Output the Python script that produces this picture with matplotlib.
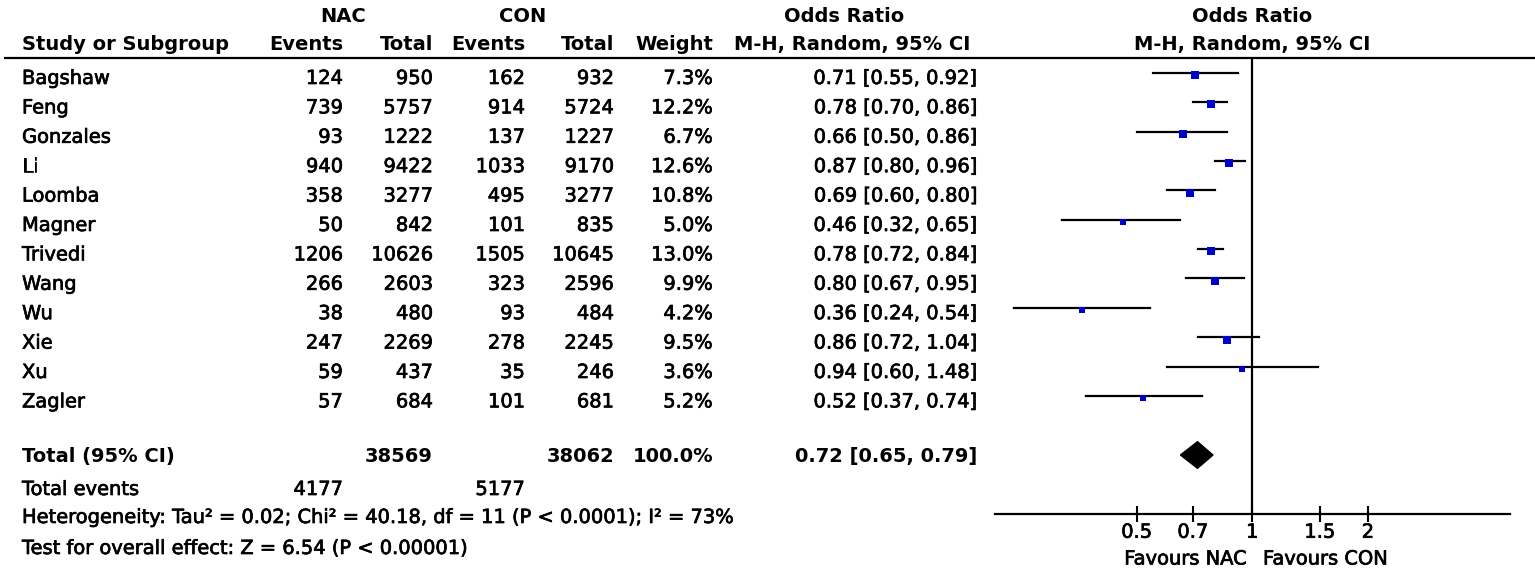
import matplotlib
matplotlib.use("Agg")
import matplotlib.pyplot as plt
import matplotlib.patheffects as pe
import numpy as np

studies = ["Bagshaw", "Feng", "Gonzales", "Li", "Loomba", "Magner",
           "Trivedi", "Wang", "Wu", "Xie", "Xu", "Zagler"]
nac_events = [124, 739, 93, 940, 358, 50, 1206, 266, 38, 247, 59, 57]
nac_total = [950, 5757, 1222, 9422, 3277, 842, 10626, 2603, 480, 2269, 437, 684]
con_events = [162, 914, 137, 1033, 495, 101, 1505, 323, 93, 278, 35, 101]
con_total = [932, 5724, 1227, 9170, 3277, 835, 10645, 2596, 484, 2245, 246, 681]
weight = [7.3, 12.2, 6.7, 12.6, 10.8, 5.0, 13.0, 9.9, 4.2, 9.5, 3.6, 5.2]
or_est = [0.71, 0.78, 0.66, 0.87, 0.69, 0.46, 0.78, 0.80, 0.36, 0.86, 0.94, 0.52]
ci_lo = [0.55, 0.70, 0.50, 0.80, 0.60, 0.32, 0.72, 0.67, 0.24, 0.72, 0.60, 0.37]
ci_hi = [0.92, 0.86, 0.86, 0.96, 0.80, 0.65, 0.84, 0.95, 0.54, 1.04, 1.48, 0.74]

total_nac, total_con = 38569, 38062
events_nac, events_con = 4177, 5177
pooled = (0.72, 0.65, 0.79)
xticks = [0.5, 0.7, 1, 1.5, 2]

W, H = 1535, 571
fig = plt.figure(figsize=(W / 100, H / 100), dpi=100)
plt.rcParams['font.family'] = ['DejaVu Sans']
FS = 14
thick = [pe.withStroke(linewidth=0.5, foreground="black")]

# text layer in pixel coords
ax = fig.add_axes([0, 0, 1, 1])
ax.set_xlim(0, W)
ax.set_ylim(H, 0)
ax.axis("off")

def txt(x, y, s, ha="left", bold=False):
    # y is the cap centre, place on baseline
    t = ax.text(x, y + 7, s, ha=ha, va="baseline", fontsize=FS,
                fontweight="bold" if bold else "normal")
    if not bold:
        t.set_path_effects(thick)
    return t

col_x = [343, 433, 525, 614, 713, 977]

# headers
txt(343, 15, "NAC", "center", True)
txt(523, 15, "CON", "center", True)
txt(844, 15, "Odds Ratio", "center", True)
txt(1252, 15, "Odds Ratio", "center", True)
txt(22, 43, "Study or Subgroup", bold=True)
for x, s in zip(col_x[:5], ["Events", "Total", "Events", "Total", "Weight"]):
    txt(x, 43, s, "right", True)
txt(852, 43, "M-H, Random, 95% CI", "center", True)
txt(1252, 43, "M-H, Random, 95% CI", "center", True)
ax.plot([5, 1535], [58.3, 58.3], color="black", lw=1.6)

row_y = [77 + 29.4 * i for i in range(len(studies))]
for i, y in enumerate(row_y):
    txt(22, y, studies[i])
    vals = [str(nac_events[i]), str(nac_total[i]), str(con_events[i]),
            str(con_total[i]), "%.1f%%" % weight[i],
            "%.2f [%.2f, %.2f]" % (or_est[i], ci_lo[i], ci_hi[i])]
    for x, s in zip(col_x, vals):
        txt(x, y, s, "right")

ty = 455
txt(22, ty, "Total (95% CI)", bold=True)
txt(433, ty, str(total_nac), "right", True)
txt(614, ty, str(total_con), "right", True)
txt(713, ty, "%.1f%%" % sum(weight), "right", True)
txt(977, ty, "%.2f [%.2f, %.2f]" % pooled, "right", True)
txt(22, 488, "Total events")
txt(343, 488, str(events_nac), "right")
txt(525, 488, str(events_con), "right")
txt(22, 516, "Heterogeneity: Tau\u00b2 = 0.02; Chi\u00b2 = 40.18, df = 11 (P < 0.0001); I\u00b2 = 73%")
txt(22, 547, "Test for overall effect: Z = 6.54 (P < 0.00001)")

# forest panel
x0, x1, ytop, ybot = 995, 1510, 58.3, 513.7
one_px, per_dec = 1252.3, 384.0
fa = fig.add_axes([x0 / W, 1 - ybot / H, (x1 - x0) / W, (ybot - ytop) / H])
fa.patch.set_alpha(0)
fa.set_xscale("log")
fa.set_xlim(10 ** ((x0 - one_px) / per_dec), 10 ** ((x1 - one_px) / per_dec))
fa.set_ylim(ybot, ytop)
for sp in ["left", "right", "top"]:
    fa.spines[sp].set_visible(False)
fa.spines["bottom"].set_linewidth(1.6)
fa.set_yticks([])
fa.set_xticks(xticks)
fa.set_xticklabels(["0.5", "0.7", "1", "1.5", "2"], fontsize=FS)
for lab in fa.get_xticklabels():
    lab.set_path_effects(thick)
fa.xaxis.set_minor_locator(matplotlib.ticker.NullLocator())
fa.tick_params(axis="x", direction="inout", length=11, width=1.5, pad=1)
fa.axvline(1, color="black", lw=1.6)

for i, y in enumerate(row_y):
    fa.plot([ci_lo[i], ci_hi[i]], [y - 4.3, y - 4.3], color="black", lw=1.6, zorder=2)
    side = 5.5 + 0.25 * weight[i]
    fa.plot(or_est[i], y - 2, marker="s", ms=side * 0.72, color="#0000cc",
            mec="#0000cc", mew=0, zorder=3)

fa.fill([pooled[1], pooled[0], pooled[2], pooled[0]],
        [ty, ty - 13.3, ty, ty + 13.3], color="black", zorder=3)

txt(1247, 557.5, "Favours NAC", "right")
txt(1263, 557.5, "Favours CON", "left")

fig.savefig("out.png", dpi=100)
